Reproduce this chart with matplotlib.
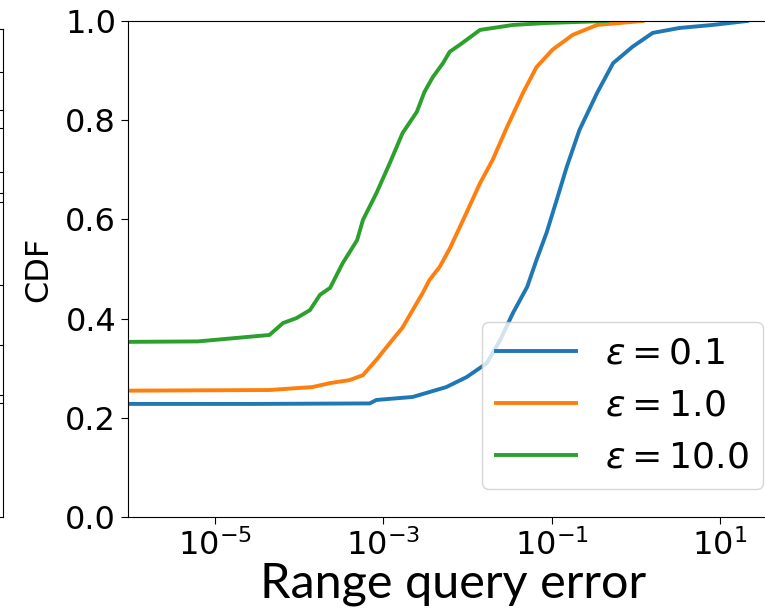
import numpy as np
import matplotlib.pyplot as plt

plt.rcParams['font.family'] = 'DejaVu Sans'
plt.rcParams['mathtext.fontset'] = 'dejavusans'

# log10 of range query error, and CDF value at that point
eps_labels = [r'$\epsilon = 0.1$', r'$\epsilon = 1.0$', r'$\epsilon = 10.0$']
colores = ['#1f77b4', '#ff7f0e', '#2ca02c']

log_err_01 = [-7.0, -4.5, -3.16, -3.08, -2.65, -2.45, -2.25, -2.01, -1.77, -1.61, -1.46,
              -1.29, -1.18, -1.06, -0.94, -0.82, -0.67, -0.46, -0.27, -0.04, 0.20, 0.52,
              0.91, 1.32]
cdf_01 = [0.228, 0.228, 0.229, 0.236, 0.242, 0.252, 0.262, 0.282, 0.310, 0.357, 0.411,
          0.464, 0.518, 0.573, 0.639, 0.706, 0.780, 0.855, 0.915, 0.948, 0.976, 0.986,
          0.992, 1.0]

log_err_1 = [-7.0, -4.35, -3.84, -3.63, -3.40, -3.24, -3.08, -2.92, -2.77, -2.65, -2.53,
             -2.45, -2.33, -2.21, -2.05, -1.85, -1.70, -1.53, -1.34, -1.18, -0.99, -0.75,
             -0.46, 0.08]
cdf_1 = [0.254, 0.256, 0.262, 0.270, 0.276, 0.286, 0.317, 0.351, 0.382, 0.417, 0.452,
         0.478, 0.504, 0.541, 0.599, 0.673, 0.720, 0.786, 0.855, 0.907, 0.942, 0.972,
         0.992, 1.0]

log_err_10 = [-7.0, -5.2, -4.35, -4.19, -4.03, -3.87, -3.75, -3.63, -3.48, -3.31, -3.24,
              -3.08, -2.92, -2.77, -2.60, -2.51, -2.41, -2.29, -2.21, -2.09, -1.85, -1.46,
              -1.06, -0.34]
cdf_10 = [0.352, 0.354, 0.367, 0.391, 0.401, 0.417, 0.448, 0.462, 0.512, 0.558, 0.599,
          0.653, 0.714, 0.774, 0.817, 0.857, 0.887, 0.915, 0.938, 0.952, 0.982, 0.992,
          0.996, 1.0]

series = [(log_err_01, cdf_01), (log_err_1, cdf_1), (log_err_10, cdf_10)]

W, H = 765, 610
fig = plt.figure(figsize=(W / 100, H / 100), dpi=100)

# pedazo del subplot vecino, recortado en el borde izquierdo
ax0 = fig.add_axes([-0.3, (H - 517) / H, 0.3 + 3 / W, (517 - 29) / H])
ax0.set_xticks([])
ax0.yaxis.tick_right()
ax0.set_ylim(517, 29)
ax0.set_yticks([72, 110, 128, 172, 193, 202, 285, 345, 395, 403])
ax0.tick_params(axis='y', direction='in', length=3, labelright=False)

# el eje principal sigue mas alla del borde derecho
left, right, top, bottom = 128, 779, 21, 517
ax = fig.add_axes([left / W, (H - bottom) / H, (right - left) / W, (bottom - top) / H])

for (lx, c), lab, col in zip(series, eps_labels, colores):
    ax.plot(10.0 ** np.array(lx), c, color=col, lw=2.8, label=lab)

ax.set_xscale('log')
ax.set_xlim(10 ** -6.03, 10 ** 1.7)
ax.set_ylim(0, 1.0)
ax.set_xticks([1e-5, 1e-3, 1e-1, 1e1])
ax.minorticks_off()
ax.tick_params(labelsize=23, length=5)
ax.set_ylabel('CDF', fontsize=23, labelpad=8)
ax.set_xlabel('Range query error', fontsize=35, family='Lato', labelpad=0)

ax.legend(loc='upper left', bbox_to_anchor=(482 / W, 1 - 322 / H),
          bbox_transform=fig.transFigure, fontsize=26, handlelength=2.2,
          borderaxespad=0)

fig.savefig('out.png', dpi=100)
